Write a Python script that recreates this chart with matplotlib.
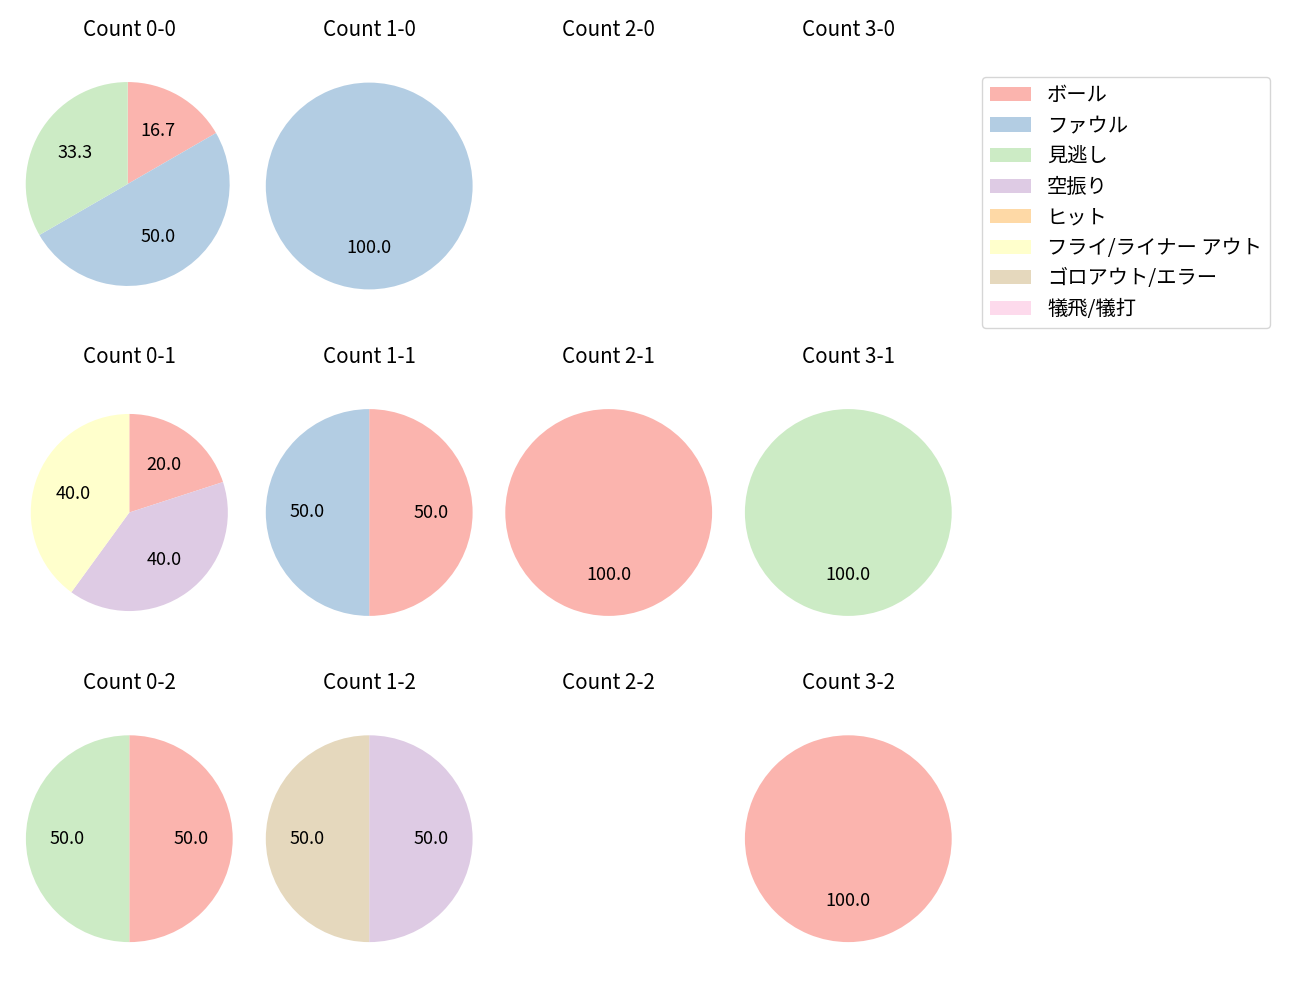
import matplotlib
matplotlib.use("Agg")
import matplotlib.pyplot as plt
from matplotlib.patches import Patch

plt.rcParams['font.family'] = ['Noto Sans CJK JP', 'DejaVu Sans']
plt.rcParams['font.size'] = 12

categories = ["ボール", "ファウル", "見逃し", "空振り", "ヒット",
              "フライ/ライナー アウト", "ゴロアウト/エラー", "犠飛/犠打"]
colors = ["#fbb4ae", "#b3cde3", "#ccebc5", "#decbe4", "#fed9a6",
          "#ffffcc", "#e5d8bd", "#fddaec"]

# counts per category for each ball-strike count (balls-strikes)
count_0_0 = [1, 3, 2, 0, 0, 0, 0, 0]
count_1_0 = [0, 1, 0, 0, 0, 0, 0, 0]
count_2_0 = [0, 0, 0, 0, 0, 0, 0, 0]
count_3_0 = [0, 0, 0, 0, 0, 0, 0, 0]
count_0_1 = [1, 0, 0, 2, 0, 2, 0, 0]
count_1_1 = [1, 1, 0, 0, 0, 0, 0, 0]
count_2_1 = [1, 0, 0, 0, 0, 0, 0, 0]
count_3_1 = [0, 0, 1, 0, 0, 0, 0, 0]
count_0_2 = [1, 0, 1, 0, 0, 0, 0, 0]
count_1_2 = [0, 0, 0, 1, 0, 0, 1, 0]
count_2_2 = [0, 0, 0, 0, 0, 0, 0, 0]
count_3_2 = [1, 0, 0, 0, 0, 0, 0, 0]

grid = [
    [("Count 0-0", count_0_0), ("Count 1-0", count_1_0), ("Count 2-0", count_2_0), ("Count 3-0", count_3_0)],
    [("Count 0-1", count_0_1), ("Count 1-1", count_1_1), ("Count 2-1", count_2_1), ("Count 3-1", count_3_1)],
    [("Count 0-2", count_0_2), ("Count 1-2", count_1_2), ("Count 2-2", count_2_2), ("Count 3-2", count_3_2)],
]

W, H = 1300, 1000
fig = plt.figure(figsize=(13, 10), dpi=100)

# layout (pixels)
col_cx = [129.3, 369.2, 608.7, 848.3]
row_cy = [186.0, 512.5, 838.7]
r_px = 103.4
side = 2.5 * r_px
# small per-cell pie adjustments: (dx px, dy px, radius scale)
tweak = {(0, 0): (-1.6, -2.0, 0.986), (1, 0): (0.0, 0.0, 0.953)}

title_baseline = 36.0
pad_pt = (row_cy[0] - side / 2 - title_baseline) * 72 / 100

for i, row in enumerate(grid):
    for j, (title, vals) in enumerate(row):
        cx, cy = col_cx[j], row_cy[i]
        ax = fig.add_axes([(cx - side / 2) / W, 1 - (cy + side / 2) / H, side / W, side / H])
        dx, dy, rs = tweak.get((i, j), (0.0, 0.0, 1.0))
        idx = [k for k, v in enumerate(vals) if v > 0]
        if idx:
            ax.pie([vals[k] for k in idx], colors=[colors[k] for k in idx],
                   startangle=90, counterclock=False, autopct="%.1f",
                   radius=rs, center=(dx / r_px, -dy / r_px),
                   textprops={'fontsize': 13})
        ax.set_xlim(-1.25, 1.25)
        ax.set_ylim(-1.25, 1.25)
        ax.set_aspect('equal')
        ax.axis('off')
        ax.set_title(title, fontsize=14.8, pad=pad_pt)

handles = [Patch(facecolor=c, label=l) for c, l in zip(colors, categories)]
fig.legend(handles=handles, loc='upper left', bbox_to_anchor=(982 / W, 1 - 77 / H),
           fontsize=14.6, frameon=True, borderaxespad=0, labelspacing=0.47,
           handleheight=0.7)

fig.savefig("out.png", dpi=100)
